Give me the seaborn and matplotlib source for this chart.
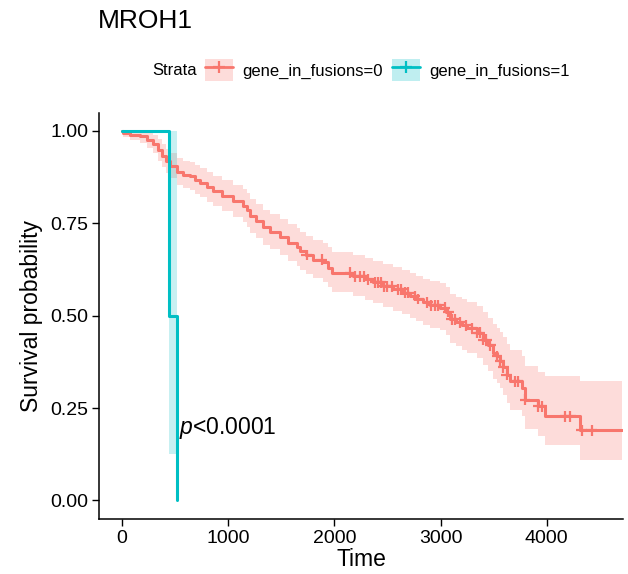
import numpy as np
import pandas as pd
import matplotlib.pyplot as plt
import seaborn as sns
from matplotlib.lines import Line2D
from matplotlib.patches import Patch

# -------------------------------
# Data
# -------------------------------
strata_labels = ["gene_in_fusions=0", "gene_in_fusions=1"]
colors = ["#F8766D", "#00BFC4"]

# stratum 0: step times, survival, CI
times0 = [0, 9, 78, 172, 238, 295, 342, 376, 417, 455, 518, 577, 643, 690, 737, 803,
          859, 944, 1048, 1142, 1179, 1208, 1264, 1330, 1396, 1490, 1565, 1650, 1678,
          1735, 1801, 1895, 1942, 1976, 2177, 2290, 2365, 2460, 2553, 2638, 2713, 2770,
          2835, 2902, 2996, 3053, 3090, 3147, 3203, 3250, 3341, 3400, 3448, 3494, 3532,
          3560, 3589, 3624, 3655, 3765, 3796, 3918, 3984, 4314, 4710]
surv0 = [1.000, 0.995, 0.990, 0.986, 0.975, 0.964, 0.948, 0.932, 0.918, 0.905, 0.890,
         0.882, 0.878, 0.868, 0.860, 0.848, 0.837, 0.825, 0.810, 0.797, 0.785, 0.770,
         0.755, 0.739, 0.727, 0.712, 0.698, 0.685, 0.675, 0.664, 0.652, 0.644, 0.630,
         0.616, 0.607, 0.598, 0.590, 0.580, 0.571, 0.562, 0.553, 0.545, 0.536, 0.528,
         0.522, 0.510, 0.490, 0.482, 0.474, 0.467, 0.454, 0.435, 0.420, 0.400, 0.390,
         0.377, 0.360, 0.340, 0.322, 0.305, 0.273, 0.255, 0.228, 0.190, 0.190]
upper0 = [1.000, 1.000, 1.000, 1.000, 0.995, 0.990, 0.978, 0.965, 0.952, 0.940, 0.927,
          0.920, 0.916, 0.907, 0.900, 0.889, 0.879, 0.868, 0.854, 0.842, 0.831, 0.816,
          0.802, 0.787, 0.776, 0.762, 0.749, 0.737, 0.727, 0.717, 0.706, 0.698, 0.685,
          0.672, 0.664, 0.656, 0.648, 0.639, 0.631, 0.623, 0.615, 0.608, 0.600, 0.593,
          0.588, 0.577, 0.558, 0.551, 0.544, 0.538, 0.526, 0.509, 0.495, 0.477, 0.468,
          0.456, 0.441, 0.423, 0.407, 0.392, 0.363, 0.348, 0.338, 0.322, 0.322]
lower0 = [1.000, 0.985, 0.975, 0.968, 0.955, 0.940, 0.920, 0.902, 0.886, 0.872, 0.855,
          0.846, 0.841, 0.830, 0.821, 0.808, 0.796, 0.783, 0.767, 0.753, 0.740, 0.724,
          0.709, 0.692, 0.680, 0.664, 0.649, 0.635, 0.625, 0.613, 0.601, 0.592, 0.578,
          0.563, 0.553, 0.543, 0.535, 0.524, 0.514, 0.504, 0.494, 0.485, 0.476, 0.467,
          0.460, 0.447, 0.426, 0.417, 0.408, 0.400, 0.386, 0.366, 0.350, 0.329, 0.318,
          0.304, 0.286, 0.265, 0.246, 0.228, 0.194, 0.175, 0.151, 0.110, 0.110]
censor0 = [1741, 1882, 2149, 2196, 2243, 2280, 2318, 2384, 2410, 2440, 2470, 2497, 2541,
           2600, 2630, 2665, 2695, 2760, 2790, 2874, 2910, 2950, 2978, 3043, 3075, 3105,
           3137, 3184, 3240, 3297, 3341, 3370, 3400, 3430, 3467, 3532, 3560, 3590, 3624,
           3702, 3730, 3796, 3918, 3955, 4174, 4221, 4329, 4423]

# stratum 1
times1 = [0, 439, 517]
surv1 = [1.0, 0.5, 0.0]
upper1 = [1.0, 1.0, 0.0]
lower1 = [1.0, 0.126, 0.0]

pval_text = "$p$<0.0001"


def censor_y(times, surv, cens):
    idx = np.searchsorted(times, cens, side="right") - 1
    return np.asarray(surv)[idx]


def main():
    sns.set_style("white")
    plt.rcParams["font.family"] = ["Liberation Sans", "DejaVu Sans"]
    plt.rcParams["mathtext.fontset"] = "custom"
    plt.rcParams["mathtext.it"] = "Liberation Sans:italic"
    plt.rcParams["mathtext.rm"] = "Liberation Sans"
    plt.rcParams["text.color"] = "black"
    plt.rcParams["axes.labelcolor"] = "black"

    df = pd.concat([
        pd.DataFrame({"Time": times0, "Surv": surv0, "Strata": strata_labels[0]}),
        pd.DataFrame({"Time": times1, "Surv": surv1, "Strata": strata_labels[1]}),
    ], ignore_index=True)
    cens = pd.DataFrame({"Time": censor0,
                         "Surv": censor_y(times0, surv0, censor0),
                         "Strata": strata_labels[0]})
    palette = dict(zip(strata_labels, colors))

    fig = plt.figure(figsize=(6.28, 5.74), dpi=100)
    ax = fig.add_axes([0.158, 0.096, 0.834, 0.708])

    # confidence bands
    ax.fill_between(times0, lower0, upper0, step="post", color=colors[0], alpha=0.25, lw=0)
    ax.fill_between(times1, lower1, upper1, step="post", color=colors[1], alpha=0.22, lw=0)

    sns.lineplot(data=df, x="Time", y="Surv", hue="Strata", palette=palette,
                 drawstyle="steps-post", linewidth=2.2, estimator=None, sort=False,
                 legend=False, ax=ax)
    sns.scatterplot(data=cens, x="Time", y="Surv", hue="Strata", palette=palette,
                    marker="+", s=60, linewidth=1.6, legend=False, ax=ax, zorder=3)

    ax.text(540, 0.196, pval_text, fontsize=16.5, va="center", ha="left")

    ax.set_xlim(-214, 4718)
    ax.set_ylim(-0.05, 1.05)
    ax.set_xticks([0, 1000, 2000, 3000, 4000])
    ax.set_yticks([0, 0.25, 0.5, 0.75, 1.0])
    ax.set_yticklabels(["0.00", "0.25", "0.50", "0.75", "1.00"])
    ax.tick_params(axis="both", labelsize=14, length=5, width=1, color="black",
                   labelcolor="black", direction="out", left=True, bottom=True, pad=3)
    ax.set_xlabel("Time", fontsize=16.5, labelpad=1)
    ax.set_ylabel("Survival probability", fontsize=16.5, labelpad=5)
    sns.despine(ax=ax)
    for s in ["left", "bottom"]:
        ax.spines[s].set_color("black")
        ax.spines[s].set_linewidth(1.1)

    fig.text(0.156, 0.963, "MROH1", fontsize=19, va="center", ha="left")

    # legend on top
    handles = []
    for c in colors:
        handles.append((Patch(facecolor=c, alpha=0.25, edgecolor="none"),
                        Line2D([], [], color=c, lw=2, marker="+", markersize=9,
                               markeredgewidth=1.6)))
    fig.text(0.242, 0.878, "Strata", fontsize=12, va="center", ha="left")
    fig.legend(handles, strata_labels, loc="center left", bbox_to_anchor=(0.326, 0.878),
               ncol=2, frameon=False, fontsize=12, handlelength=1.7, handleheight=1.7,
               handletextpad=0.55, columnspacing=0.55, borderaxespad=0, borderpad=0)

    plt.savefig("out.png", dpi=100)


if __name__ == "__main__":
    main()
